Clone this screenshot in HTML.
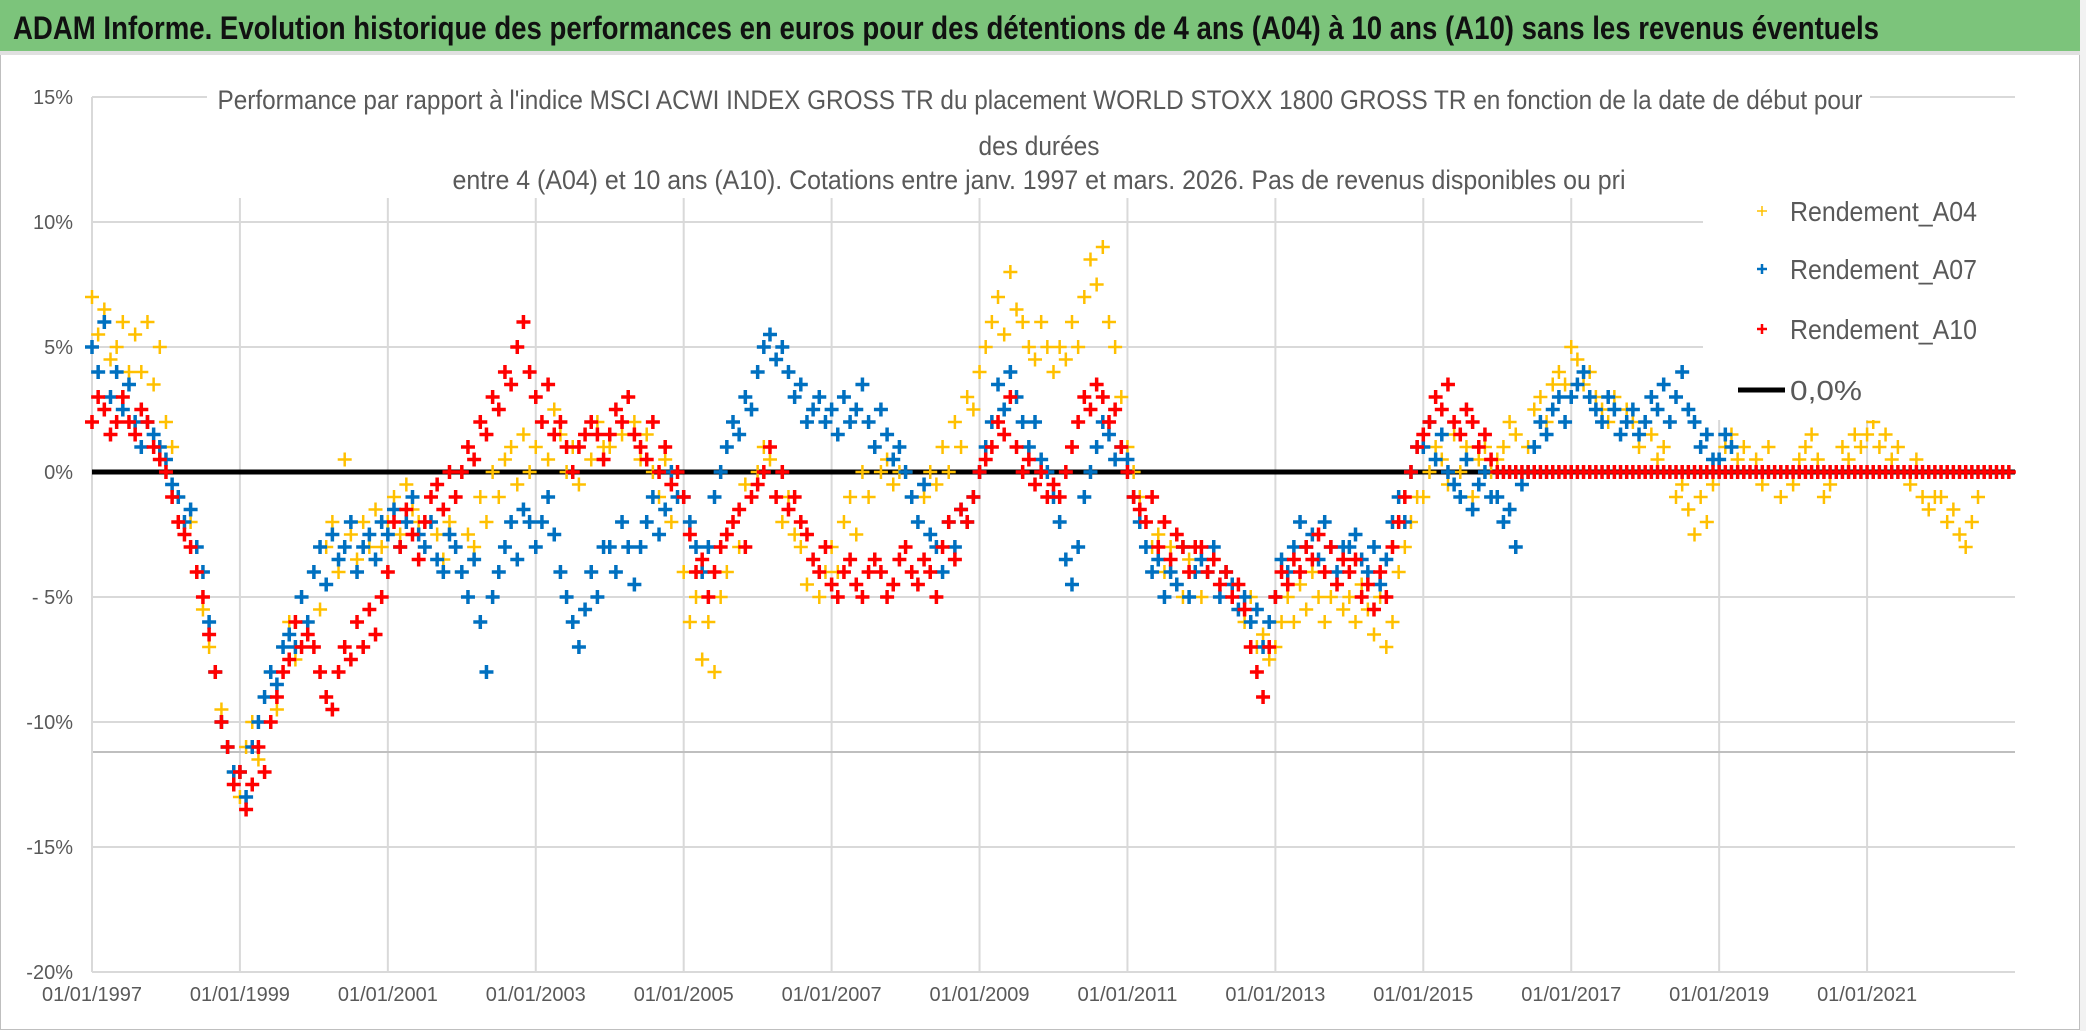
<!DOCTYPE html>
<html><head><meta charset="utf-8"><style>
html,body{margin:0;padding:0;background:#fff;}
svg{display:block;font-family:"Liberation Sans",sans-serif;}
</style></head><body>
<svg id="chart" width="2086" height="1031" viewBox="0 0 2086 1031" xmlns="http://www.w3.org/2000/svg">
<rect x="0" y="0" width="2086" height="1031" fill="#fff"/>
<rect x="0.5" y="0.5" width="2079" height="1029" fill="none" stroke="#bfbfbf" stroke-width="1"/>
<rect x="0" y="0" width="2086" height="51" fill="#7cc47b"/>
<rect x="0" y="51" width="2086" height="4" fill="#e0e0e0"/>
<rect x="2080" y="0" width="6" height="1031" fill="#f2f2f2"/>
<text x="13" y="39" font-size="32" font-weight="bold" fill="#111" textLength="1866" lengthAdjust="spacingAndGlyphs">ADAM Informe. Evolution historique des performances en euros pour des détentions de 4 ans (A04) à 10 ans (A10) sans les revenus éventuels</text>
<g id="grid"></g>
<g id="axes"></g>
<g id="marks"></g>
<rect x="207" y="75" width="1663" height="122" fill="#fff"/>
<g fill="#595959" font-size="27" text-anchor="middle">
<text x="1040" y="109" textLength="1645" lengthAdjust="spacingAndGlyphs">Performance par rapport à l'indice MSCI ACWI INDEX GROSS TR  du placement WORLD STOXX 1800 GROSS TR en fonction de la date de début pour</text>
<text x="1039" y="155" textLength="121" lengthAdjust="spacingAndGlyphs">des durées</text>
<text x="1039" y="189" textLength="1173" lengthAdjust="spacingAndGlyphs">entre 4 (A04) et 10 ans (A10). Cotations entre janv. 1997 et mars. 2026. Pas de revenus disponibles ou pri</text>
</g>
<rect x="1703" y="198" width="312" height="222" fill="#fff"/>
<g font-size="28" fill="#595959">
<g><path d="M1757 211h10M1762 206v10" stroke="#ffc000" stroke-width="1.5"/><text x="1790" y="221" textLength="187" lengthAdjust="spacingAndGlyphs">Rendement_A04</text></g>
<g><path d="M1757 269h10M1762 264v10" stroke="#0070c0" stroke-width="2.5"/><text x="1790" y="279" textLength="187" lengthAdjust="spacingAndGlyphs">Rendement_A07</text></g>
<g><path d="M1757 329h10M1762 324v10" stroke="#ff0000" stroke-width="2.5"/><text x="1790" y="339" textLength="187" lengthAdjust="spacingAndGlyphs">Rendement_A10</text></g>
<g><line x1="1738" y1="390" x2="1785" y2="390" stroke="#000" stroke-width="5"/><text x="1790" y="400" textLength="72" lengthAdjust="spacingAndGlyphs">0,0%</text></g>
</g>
</svg>
<script>
const yTicks = [15, 10, 5, 0, -5, -10, -15, -20];
const yTickLabels = ["15%", "10%", "5%", "0%", "- 5%", "-10%", "-15%", "-20%"];
const xTicks = [1997, 1999, 2001, 2003, 2005, 2007, 2009, 2011, 2013, 2015, 2017, 2019, 2021];
const xTickLabels = ["01/01/1997","01/01/1999","01/01/2001","01/01/2003","01/01/2005","01/01/2007","01/01/2009","01/01/2011","01/01/2013","01/01/2015","01/01/2017","01/01/2019","01/01/2021"];
const startYear = 1997;
const refLineValue = -11.2;
const zeroLineValue = 0;
const a04 = [
7,5.5,6.5,4.5,5,6,4,5.5,4,6,3.5,5,
2,1,-1,-2.5,-2,-4,-5.5,-7,-8,-9.5,-11,-12,
-13,-11,-10,-11.5,-9,-8,-9.5,-7,-6,-7.5,-5,-6,
-4,-5.5,-3,-2,-4,0.5,-2.5,-3.5,-2,-3,-1.5,-3,
-2,-1,-2.5,-0.5,-1.5,-2,-3,-1,-2.5,-3.5,-2,-3,
-4,-2.5,-3,-1,-2,0,-1,0.5,1,-0.5,1.5,0,
1,2,0.5,2.5,1.5,0,1,-0.5,1.5,0.5,2,1,
1,2.5,1.5,3,2,0.5,1.5,0,-1,0.5,-2,-1,
-4,-6,-5,-7.5,-6,-8,-5,-4,-2,-3,-0.5,-1,
0,1,0.5,-1,-2,-1,-2.5,-3,-4.5,-3.5,-5,-4,
-3,-4,-2,-1,-2.5,0,-1,1,0,0.5,-0.5,0,
0,-1,-2,-1,0,-0.5,1,0,2,1,3,2.5,
4,5,6,7,5.5,8,6.5,6,5,4.5,6,5,
4,5,4.5,6,5,7,8.5,7.5,9,6,5,3,
1,0,-1,-2,-3,-2.5,-4,-3,-4.5,-5,-3.5,-4,
-5,-4,-3.5,-5,-4,-4.5,-5.5,-6,-5,-7,-6.5,-7.5,
-7,-6,-5,-6,-4.5,-5.5,-4,-5,-6,-5,-4.5,-5.5,
-5,-6,-4.5,-5.5,-6.5,-5,-7,-6,-4,-3,-2,-1,
-1,0,1,0.5,-0.5,1.5,0,1,-1,0.5,1,0,
0.5,1,2,1.5,0,1,2.5,3,2,3.5,4,3.5,
5,4.5,3.5,4,3,2.5,2,3,1.5,2.5,2,1,
2,1.5,0.5,1,0,-1,-0.5,-1.5,-2.5,-1,-2,-0.5,
0,1,1.5,0.5,1,0,0.5,-0.5,1,0,-1,0,
-0.5,0.5,1,1.5,0.5,-1,-0.5,0,1,0.5,1.5,1,
1.5,2,1,1.5,0.5,1,0,-0.5,0.5,-1,-1.5,-1,
-1,-2,-1.5,-2.5,-3,-2,-1
];
const a07 = [
5,4,6,3,4,2.5,3.5,2,1,2,1.5,1,
0.5,-0.5,-1,-2,-1.5,-3,-4,-6,-8,-10,-11,-12,
-12,-13,-11,-10,-9,-8,-8.5,-7,-6.5,-7,-5,-6,
-4,-3,-4.5,-2.5,-3.5,-3,-2,-4,-3,-2.5,-3.5,-2,
-2.5,-1.5,-3,-2,-1,-2.5,-3,-2,-3.5,-4,-2.5,-3,
-4,-5,-3.5,-6,-8,-5,-4,-3,-2,-3.5,-1.5,-2,
-3,-2,-1,-2.5,-4,-5,-6,-7,-5.5,-4,-5,-3,
-3,-4,-2,-3,-4.5,-3,-2,-1,-2.5,-1.5,0,-1,
-1,-2,-3,-4,-3,-1,0,1,2,1.5,3,2.5,
4,5,5.5,4.5,5,4,3,3.5,2,2.5,3,2,
2.5,1.5,3,2,2.5,3.5,2,1,2.5,1.5,0.5,1,
0,-1,-2,-0.5,-2.5,-3,-4,-2,-3,-1.5,-2,-1,
0,1,2,3.5,2.5,4,3,2,1,2,0.5,0,
-1,-2,-3.5,-4.5,-3,-1,0,1,2,1.5,0.5,1,
0.5,-1,-2,-3,-4,-3.5,-5,-4,-4.5,-3,-5,-4,
-3.5,-4,-3,-5,-4,-4.5,-5.5,-5,-6,-5.5,-7,-6,
-5,-3.5,-4,-3,-2,-3,-2.5,-3.5,-2,-3,-4,-3,
-3,-2.5,-3.5,-4,-3,-4.5,-3.5,-2,-1,-2,0,1,
1,2,0.5,1.5,0,-0.5,-1,0.5,-1.5,-0.5,0,-1,
-1,-2,-1.5,-3,-0.5,0,1,2,1.5,2.5,3,2,
3,3.5,4,3,2.5,2,3,2.5,1.5,2,2.5,1.5,
2,3,2.5,3.5,2,3,4,2.5,2,1,1.5,0.5,
0.5,1.5,1
];
const a10 = [
2,3,2.5,1.5,2,3,2,1.5,2.5,2,1,0.5,
0,-1,-2,-2.5,-3,-4,-5,-6.5,-8,-10,-11,-12.5,
-12,-13.5,-12.5,-11,-12,-10,-9,-8,-7.5,-6,-7,-6.5,
-7,-8,-9,-9.5,-8,-7,-7.5,-6,-7,-5.5,-6.5,-5,
-4,-2,-3,-1.5,-2.5,-3.5,-2,-1,-0.5,-1.5,0,-1,
0,1,0.5,2,1.5,3,2.5,4,3.5,5,6,4,
3,2,3.5,1.5,2,1,0,1,1.5,2,1.5,0.5,
1.5,2.5,2,3,1.5,1,0.5,2,0,1,-0.5,0,
-1,-2.5,-4,-3.5,-5,-4,-3,-2.5,-2,-1.5,-3,-1,
-0.5,0,1,-1,0,-1.5,-1,-2,-2.5,-3.5,-4,-3,
-4.5,-5,-4,-3.5,-4.5,-5,-4,-3.5,-4,-5,-4.5,-3.5,
-3,-4,-4.5,-3.5,-4,-5,-3,-2,-3.5,-1.5,-2,-1,
0,0.5,1,2,1.5,3,1,0,0.5,-0.5,0,-1,
-0.5,-1,0,1,2,3,2.5,3.5,3,2,2.5,1,
0,-1,-1.5,-2,-1,-3,-2,-3.5,-2.5,-3,-4,-3,
-3,-4,-3.5,-4.5,-4,-5,-4.5,-5.5,-7,-8,-9,-7,
-5,-4,-4.5,-3.5,-4,-3,-3.5,-2.5,-4,-3,-4.5,-3.5,
-4,-3.5,-5,-4.5,-5.5,-4,-5,-3,-2,-1,0,1,
1.5,2,3,2.5,3.5,2,1.5,2.5,2,1,1.5,0.5,
0,0,0,0,0,0,0,0,0,0,0,0,
0,0,0,0,0,0,0,0,0,0,0,0,
0,0,0,0,0,0,0,0,0,0,0,0,
0,0,0,0,0,0,0,0,0,0,0,0,
0,0,0,0,0,0,0,0,0,0,0,0,
0,0,0,0,0,0,0,0,0,0,0,0,
0,0,0,0,0,0,0,0,0,0,0,0
];
const NS = "http://www.w3.org/2000/svg";
const plot = {left: 92, right: 2015, top: 97, bottom: 972};
const xMin = 1997, xMax = 2023, yMin = -20, yMax = 15;
function xScale(t){ return plot.left + (t - xMin) / (xMax - xMin) * (plot.right - plot.left); }
function yScale(v){ return plot.bottom - (v - yMin) / (yMax - yMin) * (plot.bottom - plot.top); }
function mk(tag, attrs, parent){ const e = document.createElementNS(NS, tag); for (const k in attrs) e.setAttribute(k, attrs[k]); parent.appendChild(e); return e; }
const grid = document.getElementById('grid');
const axes = document.getElementById('axes');
const marks = document.getElementById('marks');
yTicks.forEach((v, i) => {
  const y = yScale(v);
  const gl = mk('line', {x1: plot.left, x2: plot.right, y1: y, y2: y, stroke: '#d9d9d9', 'stroke-width': 2}, grid);
  
  
  const t = mk('text', {x: 73, y: y + 7, 'text-anchor': 'end', 'font-size': 20, fill: '#595959'}, axes);
  t.textContent = yTickLabels[i];
  
  
});
xTicks.forEach((yr, i) => {
  const x = xScale(yr);
  if (i > 0) {
    const gl = mk('line', {x1: x, x2: x, y1: 198, y2: plot.bottom, stroke: '#d9d9d9', 'stroke-width': 2}, grid);
    
    
  }
  const t = mk('text', {x: x, y: 1001, 'text-anchor': 'middle', 'font-size': 20, fill: '#595959', textLength: 100, lengthAdjust: 'spacingAndGlyphs'}, axes);
  t.textContent = xTickLabels[i];
  
  
});
const yAxis = mk('line', {x1: plot.left, x2: plot.left, y1: plot.top, y2: plot.bottom, stroke: '#d9d9d9', 'stroke-width': 2}, axes);


const refLine = mk('line', {x1: plot.left, x2: plot.right, y1: yScale(refLineValue), y2: yScale(refLineValue), stroke: '#bfbfbf', 'stroke-width': 2}, grid);


const zl = mk('line', {x1: plot.left, x2: plot.right, y1: yScale(zeroLineValue), y2: yScale(zeroLineValue), stroke: '#000', 'stroke-width': 5}, marks);


function drawSeries(values, color, sw, half, name){
  const g = mk('g', {stroke: color, 'stroke-width': sw}, marks);
  
  
  let d = '';
  values.forEach((v, i) => {
    const x = xScale(startYear + i / 12), y = yScale(v);
    d += 'M' + (x - half) + ' ' + y + 'h' + (2 * half) + 'M' + x + ' ' + (y - half) + 'v' + (2 * half);
  });
  const p = mk('path', {d: d, fill: 'none'}, g);
  
  
}
drawSeries(a04, '#ffc000', 2.5, 7, 'series-a04');
drawSeries(a07, '#0070c0', 3.5, 7, 'series-a07');
drawSeries(a10, '#ff0000', 3.5, 7, 'series-a10');
</script>
</body></html>
